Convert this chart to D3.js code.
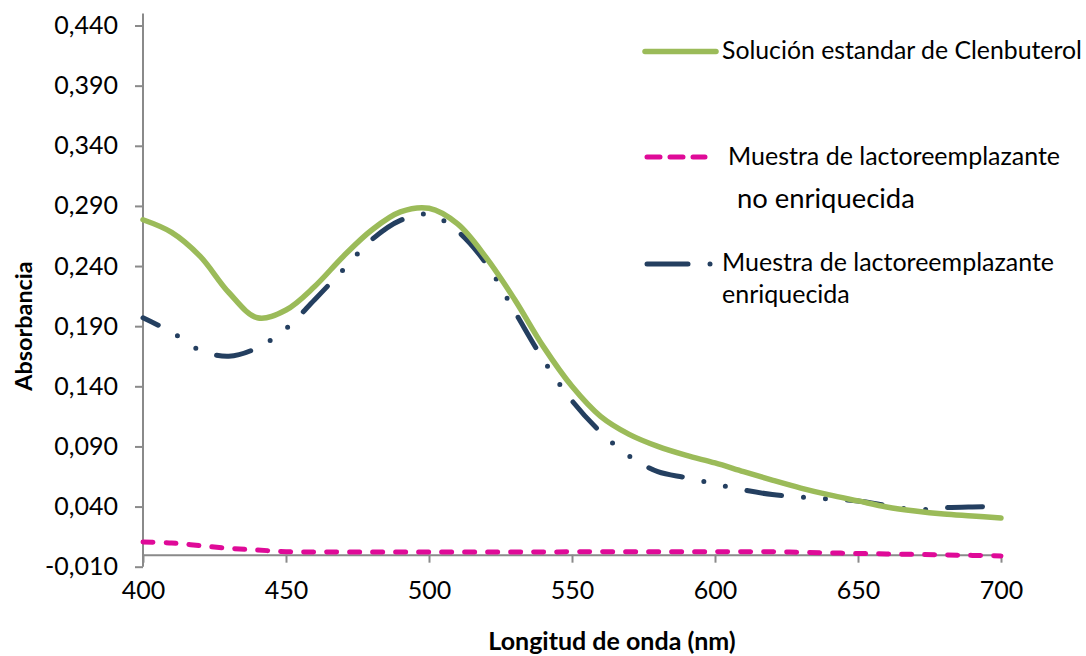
<!DOCTYPE html>
<html>
<head>
<meta charset="utf-8">
<script src="https://cdn.jsdelivr.net/npm/d3@7"></script>
<style>
  body { margin: 0; background: #fff; }
  svg { font-family: Lato, "Open Sans", sans-serif; }
  .axis path, .axis line { stroke: #8a8a8a; stroke-width: 2; }
  .axis text { font-size: 25px; fill: #000; font-family: Lato, sans-serif; }
</style>
</head>
<body>
<div id="chart"></div>
<script>
// longitud de onda (nm)
var wavelength = [400, 410, 420, 430, 440, 450, 460, 470, 480, 490, 500,
                  510, 520, 530, 540, 550, 560, 570, 580, 590, 600,
                  610, 620, 630, 640, 650, 660, 670, 680, 690, 700];

var standard = [0.2785, 0.268, 0.248, 0.218, 0.197, 0.2035, 0.223, 0.248, 0.270, 0.285, 0.288,
                0.275, 0.247, 0.212, 0.173, 0.140, 0.115, 0.100, 0.090, 0.0825, 0.0763,
                0.069, 0.062, 0.0554, 0.0497, 0.0447, 0.0397, 0.0363, 0.0338, 0.0322, 0.0305];

var notEnriched = [0.0105, 0.0097, 0.0075, 0.0053, 0.0039, 0.0025, 0.0022, 0.0022, 0.0022, 0.0022, 0.0022,
                   0.0022, 0.0022, 0.0022, 0.0022, 0.0024, 0.0025, 0.0025, 0.0025, 0.0025, 0.0025,
                   0.0025, 0.0024, 0.002, 0.0015, 0.001, 0.0006, 0.0002, -0.0002, -0.0006, -0.001];

var enriched = [0.197, 0.185, 0.170, 0.165, 0.172, 0.188, 0.212, 0.237, 0.262, 0.278, 0.283,
                0.269, 0.242, 0.202, 0.162, 0.128, 0.102, 0.082, 0.069, 0.064, 0.0588,
                0.0538, 0.050, 0.048, 0.0463, 0.0447, 0.041, 0.0372, 0.039, 0.0397, 0.040];

var xTicks = [400, 450, 500, 550, 600, 650, 700];
var yTicks = [-0.010, 0.040, 0.090, 0.140, 0.190, 0.240, 0.290, 0.340, 0.390, 0.440];

var W = 1086, H = 656;

var svg = d3.select("#chart").append("svg").attr("width", W).attr("height", H);

var x = d3.scaleLinear().domain([400, 700]).range([143, 1001]);
var y = d3.scaleLinear().domain([-0.01, 0.45]).range([566.7, 13.5]);

var es = d3.formatLocale({ decimal: ",", thousands: ".", grouping: [3], currency: ["", ""], minus: "-" });
var fmt = es.format(".3f");

// eje Y
var yAxis = svg.append("g").attr("class", "axis")
	.attr("transform", "translate(" + x(400) + ",0)")
	.call(d3.axisLeft(y).tickValues(yTicks).tickFormat(fmt).tickSizeInner(8).tickSizeOuter(0).tickPadding(17));
yAxis.select(".domain").attr("d", "M0," + y(0.45) + "V" + y(-0.01));

// eje X (cruza en 0)
var xAxis = svg.append("g").attr("class", "axis")
	.attr("transform", "translate(0," + y(0) + ")")
	.call(d3.axisBottom(x).tickValues(xTicks).tickSizeInner(8).tickSizeOuter(0));
xAxis.selectAll(".tick text").attr("y", 599 - y(0)).attr("dy", 0);

// series
var series = [
	{ values: notEnriched, color: "#df0a98", width: 5, dash: "10,13", offset: 0 },
	{ values: enriched, color: "#243f60", width: 5, dash: "35,22,0,22,0,22", offset: 18 },
	{ values: standard, color: "#9bbb59", width: 5.5, dash: null, offset: 0 }
];

var line = d3.line().curve(d3.curveCatmullRom.alpha(0.5));

series.forEach(function(s) {
	var pts = wavelength.map(function(w, i) { return [x(w), y(s.values[i])]; });
	svg.append("path")
		.attr("d", line(pts))
		.attr("fill", "none")
		.attr("stroke", s.color)
		.attr("stroke-width", s.width)
		.attr("stroke-linecap", "round")
		.attr("stroke-linejoin", "round")
		.attr("stroke-dasharray", s.dash)
		.attr("stroke-dashoffset", s.offset);
});

// leyenda
var leg = svg.append("g");
leg.append("line").attr("x1", 645).attr("x2", 716).attr("y1", 51.5).attr("y2", 51.5)
	.attr("stroke", "#9bbb59").attr("stroke-width", 5.5).attr("stroke-linecap", "round");
leg.append("text").attr("x", 722).attr("y", 59).attr("font-size", 24.8).text("Solución estandar de Clenbuterol");

leg.append("line").attr("x1", 647).attr("x2", 705).attr("y1", 157).attr("y2", 157)
	.attr("stroke", "#df0a98").attr("stroke-width", 5).attr("stroke-linecap", "round")
	.attr("stroke-dasharray", "13,10");
leg.append("text").attr("x", 728).attr("y", 165).attr("font-size", 25).text("Muestra de lactoreemplazante");
leg.append("text").attr("x", 737).attr("y", 208).attr("font-size", 27.4).text("no enriquecida");

leg.append("line").attr("x1", 647).attr("x2", 688).attr("y1", 264).attr("y2", 264)
	.attr("stroke", "#243f60").attr("stroke-width", 5).attr("stroke-linecap", "round");
leg.append("circle").attr("cx", 710).attr("cy", 264).attr("r", 2.5).attr("fill", "#243f60");
leg.append("text").attr("x", 722).attr("y", 271).attr("font-size", 25).text("Muestra de lactoreemplazante");
leg.append("text").attr("x", 722).attr("y", 303).attr("font-size", 25).text("enriquecida");

// titulos de ejes
svg.append("text").attr("x", 612).attr("y", 650).attr("text-anchor", "middle")
	.attr("font-size", 25).attr("font-weight", "bold").text("Longitud de onda (nm)");
svg.append("text").attr("transform", "translate(32,326) rotate(-90)").attr("text-anchor", "middle")
	.attr("font-size", 23.4).attr("font-weight", "bold").text("Absorbancia");
</script>
</body>
</html>
